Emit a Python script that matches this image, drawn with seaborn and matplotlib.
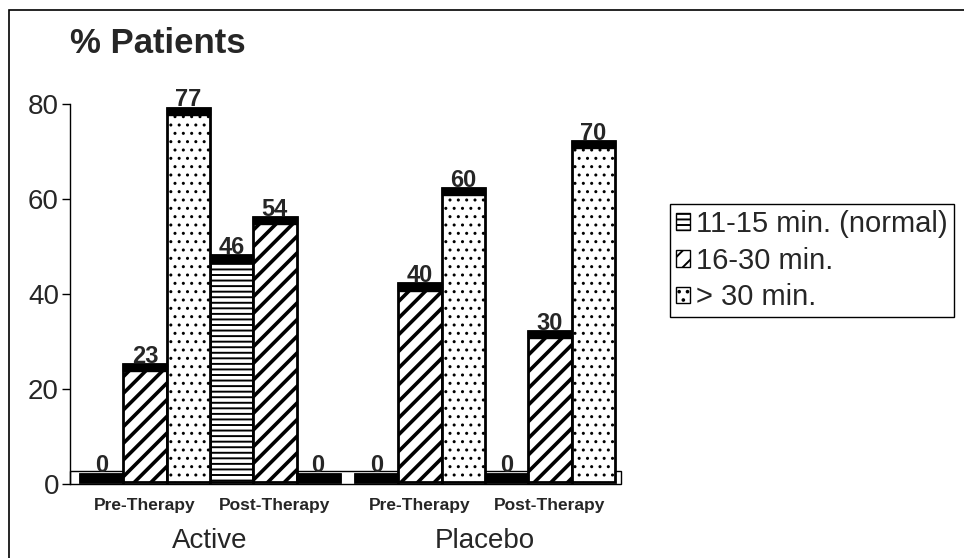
import numpy as np
import pandas as pd
import matplotlib
matplotlib.use("Agg")
import matplotlib.pyplot as plt
import matplotlib.transforms as mtransforms
from matplotlib.patches import Rectangle, Patch
import seaborn as sns

# -------------------------------
# Datos
# -------------------------------
treatments = ["Active", "Placebo"]
phases = ["Pre-Therapy", "Post-Therapy"]
bands = ["11-15 min. (normal)", "16-30 min.", "> 30 min."]

active_pre = [0, 23, 77]
active_post = [46, 54, 0]
placebo_pre = [0, 40, 60]
placebo_post = [0, 30, 70]

yticks = [0, 20, 40, 60, 80]

# estilo
hatches = ["---", "//", ".."]
hatch_lw = [1.4, 2.6, 1.0]
GROUP_GAP = 0.35   # hueco entre Active y Placebo (en anchos de barra)
BAR_BASE = 0.4     # las barras "3D" arrancan un poco sobre el eje
LIFT = 2.2         # desplazamiento de la cara superior (efecto 3D)
CAP = 1.5          # grosor de la tapa negra
FLOOR_TOP = 2.8    # altura del "suelo" 3D

sns.set_theme(style="white")
plt.rcParams["font.family"] = ["Liberation Sans", "DejaVu Sans"]
plt.rcParams["hatch.color"] = "black"
plt.rcParams["hatch.linewidth"] = 1.4

# tabla larga para seaborn
series = {("Active", "Pre-Therapy"): active_pre,
          ("Active", "Post-Therapy"): active_post,
          ("Placebo", "Pre-Therapy"): placebo_pre,
          ("Placebo", "Post-Therapy"): placebo_post}
rows = []
group_centers = []
for ti, t in enumerate(treatments):
    for pi, p in enumerate(phases):
        center = ti * (2 * len(bands) + GROUP_GAP) + pi * len(bands) + len(bands) / 2
        group_centers.append(center)
        for b, v in zip(bands, series[(t, p)]):
            rows.append({"treatment": t, "phase": p, "band": b, "pos": center, "pct": v})
df = pd.DataFrame(rows)

fig = plt.figure(figsize=(9.64, 5.58), dpi=100)
ax = fig.add_axes([70 / 964, 74 / 558, 560 / 964, 404 / 558])

sns.barplot(data=df, x="pos", y="pct", hue="band", hue_order=bands,
            native_scale=True, width=1.0, dodge=True, errorbar=None,
            palette=["white"] * len(bands), edgecolor="black", linewidth=2.0,
            legend=False, ax=ax, zorder=2)


def style_hatch(artist, i):
    artist.set_hatch(hatches[i])
    if hasattr(artist, "set_hatch_linewidth"):
        artist.set_hatch_linewidth(hatch_lw[i])


# convertir a barras "3D": base elevada, tapa negra y etiqueta
bar_containers = list(ax.containers)
for i, cont in enumerate(bar_containers):
    for patch in cont.patches:
        v = patch.get_height()
        top = v + LIFT
        patch.set_y(BAR_BASE)
        patch.set_height(top - BAR_BASE)
        style_hatch(patch, i)
        ax.bar(patch.get_x(), CAP, width=patch.get_width(), bottom=top - CAP,
               align="edge", color="black", edgecolor="black", linewidth=1, zorder=3)
        ax.text(patch.get_x() + patch.get_width() / 2, top - 0.8, f"{v:.0f}",
                ha="center", va="bottom", fontsize=17, fontweight="bold", zorder=4)

x_lo = -0.23
x_floor = group_centers[-1] + len(bands) / 2 + 0.15
ax.set_xlim(x_lo, x_floor + 0.2)
ax.set_ylim(0, 85)

# suelo
ax.add_patch(Rectangle((x_lo, 0), x_floor - x_lo, FLOOR_TOP, fill=False,
                       edgecolor="black", linewidth=1.0, zorder=1, clip_on=False))

for s in ["top", "right", "bottom"]:
    ax.spines[s].set_visible(False)
ax.spines["left"].set_bounds(0, 80)
ax.spines["left"].set_color("black")
ax.spines["left"].set_linewidth(1.0)

ax.set_yticks(yticks)
ax.tick_params(axis="y", direction="out", length=6, width=1, color="black",
               labelsize=20, pad=2, left=True)
ax.set_xticks(group_centers)
ax.set_xticklabels([p for _ in treatments for p in phases], fontsize=12.5, fontweight="bold")
ax.tick_params(axis="x", length=0, pad=10)
ax.set_xlabel("")
ax.set_ylabel("")

trans = mtransforms.blended_transform_factory(ax.transData, ax.transAxes)
for ti, t in enumerate(treatments):
    mid = (group_centers[2 * ti] + group_centers[2 * ti + 1]) / 2
    ax.text(mid, -0.14, t, transform=trans, ha="center", va="center", fontsize=20)

fig.text(70 / 964, 1 - 53 / 558, "% Patients", fontsize=25, fontweight="bold",
         ha="left", va="baseline")

handles = []
for i, h in enumerate(hatches):
    hp = Patch(facecolor="white", edgecolor="black", linewidth=1)
    style_hatch(hp, i)
    handles.append(hp)
leg = fig.legend(handles, bands, loc="upper left", bbox_to_anchor=(670 / 964, 1 - 204 / 558),
                 frameon=True, fancybox=False, framealpha=1, edgecolor="black",
                 fontsize=21, handlelength=0.5, handleheight=0.5, handletextpad=0.2,
                 labelspacing=0.3, borderpad=0.2, borderaxespad=0)
leg.get_frame().set_linewidth(1.0)

# marco exterior del gráfico
fig.add_artist(Rectangle((9 / 964, -0.1), 1.2, 1 - 10 / 558 + 0.1, transform=fig.transFigure,
                         fill=False, edgecolor="black", linewidth=1.2))

fig.savefig("out.png", dpi=100)
